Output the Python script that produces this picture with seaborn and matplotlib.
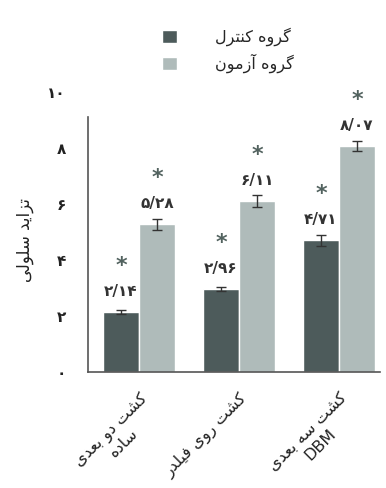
import pandas as pd
import matplotlib
matplotlib.use('Agg')
import matplotlib.pyplot as plt
from matplotlib.patches import Patch
import seaborn as sns

# data
categories = ['کشت دو بعدی\nساده', 'کشت روی فیلدر', 'کشت سه بعدی\nDBM']
groups = ['گروه کنترل', 'گروه آزمون']
control = [2.14, 2.96, 4.71]
test = [5.28, 6.11, 8.07]
control_err = [0.06, 0.08, 0.20]
test_err = [0.20, 0.20, 0.18]
yticks = [0, 2, 4, 6, 8, 10]
ylabel = 'تزاید سلولی'

dark = '#4d5b5b'
light = '#afbbba'

# no arabic_reshaper here, so a small persian shaper: (isolated, final, initial, medial)
FORMS = {
    'ا': ('\uFE8D', '\uFE8E', None, None),
    'آ': ('\uFE81', '\uFE82', None, None),
    'ب': ('\uFE8F', '\uFE90', '\uFE91', '\uFE92'),
    'ت': ('\uFE95', '\uFE96', '\uFE97', '\uFE98'),
    'د': ('\uFEA9', '\uFEAA', None, None),
    'ر': ('\uFEAD', '\uFEAE', None, None),
    'ز': ('\uFEAF', '\uFEB0', None, None),
    'س': ('\uFEB1', '\uFEB2', '\uFEB3', '\uFEB4'),
    'ش': ('\uFEB5', '\uFEB6', '\uFEB7', '\uFEB8'),
    'ع': ('\uFEC9', '\uFECA', '\uFECB', '\uFECC'),
    'ف': ('\uFED1', '\uFED2', '\uFED3', '\uFED4'),
    'ل': ('\uFEDD', '\uFEDE', '\uFEDF', '\uFEE0'),
    'م': ('\uFEE1', '\uFEE2', '\uFEE3', '\uFEE4'),
    'ن': ('\uFEE5', '\uFEE6', '\uFEE7', '\uFEE8'),
    'ه': ('\uFEE9', '\uFEEA', '\uFEEB', '\uFEEC'),
    'و': ('\uFEED', '\uFEEE', None, None),
    'ی': ('\uFBFC', '\uFBFD', '\uFBFE', '\uFBFF'),
    'ک': ('\uFB8E', '\uFB8F', '\uFB90', '\uFB91'),
    'گ': ('\uFB92', '\uFB93', '\uFB94', '\uFB95'),
}


def shape_line(line):
    if not any(c in FORMS for c in line):
        return line
    out = []
    for i, c in enumerate(line):
        if c not in FORMS:
            out.append(c)
            continue
        prev = line[i - 1] if i > 0 else ''
        nxt = line[i + 1] if i + 1 < len(line) else ''
        join_prev = prev in FORMS and FORMS[prev][2] is not None
        join_next = FORMS[c][2] is not None and nxt in FORMS
        iso, fin, ini, med = FORMS[c]
        if join_prev and join_next:
            out.append(med)
        elif join_prev:
            out.append(fin)
        elif join_next:
            out.append(ini)
        else:
            out.append(iso)
    return ''.join(out)[::-1]


def shape(text):
    return '\n'.join(shape_line(l) for l in text.split('\n'))


def to_fa(s):
    return s.translate(str.maketrans('0123456789.', '۰۱۲۳۴۵۶۷۸۹/'))


df = pd.DataFrame({
    'cat': [shape(c) for c in categories] * 2,
    'group': [shape(groups[0])] * 3 + [shape(groups[1])] * 3,
    'val': control + test,
})

sns.set_theme(style='white')
plt.rcParams['font.family'] = ['DejaVu Sans']

fig = plt.figure(figsize=(3.86, 4.88), dpi=100)
ax = fig.add_axes([88 / 386, 1 - 372 / 488, 292 / 386, 280 / 488])

sns.barplot(data=df, x='cat', y='val', hue='group', palette=[dark, light],
            width=0.72, saturation=1, legend=False, ax=ax)

# error bars + labels on top of each bar
bars = ax.patches
errs = control_err + test_err
xs = [p.get_x() + p.get_width() / 2 for p in bars]
tops = [p.get_height() for p in bars]
ax.errorbar(xs, tops, yerr=errs, fmt='none', ecolor='#333333',
            elinewidth=1, capsize=3.5, capthick=1)
for x, v in zip(xs, tops):
    ax.annotate(to_fa(f'{v:.2f}'), (x, v), xytext=(0, 15), textcoords='offset points',
                ha='center', va='center', fontsize=11, fontweight='bold', color='#333333')
    ax.annotate('*', (x, v), xytext=(0, 33), textcoords='offset points',
                ha='center', va='center', fontsize=16, fontweight='bold', color='#52625f')

ax.set_ylim(0, 10)
ax.set_xlim(-0.51, 2.41)
ax.set_yticks(yticks)
ax.set_yticklabels([to_fa(str(t)) for t in yticks], fontsize=11, fontweight='bold', color='#222222')
ax.set_xticks(range(len(categories)))
ax.set_xticklabels([shape(c) for c in categories], rotation=45, ha='right',
                   rotation_mode='anchor', multialignment='center', fontsize=11.5, color='#222222')
ax.tick_params(axis='y', length=0, pad=16)
ax.tick_params(axis='x', length=0, pad=13)
ax.set_xlabel('')
ax.set_ylabel('')

sns.despine(ax=ax)
for s in ['left', 'bottom']:
    ax.spines[s].set_color('#555555')
    ax.spines[s].set_linewidth(1.2)
ax.spines['left'].set_bounds(0, 9.1)

fig.text(25 / 386, 1 - 240 / 488, shape(ylabel), rotation=90,
         ha='center', va='center', fontsize=12, color='#222222')

handles = [Patch(facecolor=dark), Patch(facecolor=light)]
fig.legend(handles, [shape(g) for g in groups], loc='upper left',
           bbox_to_anchor=(148 / 386, 1 - 13 / 488), frameon=False,
           handlelength=0.9, handleheight=0.9, handletextpad=2.4,
           labelspacing=0.5, fontsize=11.5)

fig.savefig('out.png', dpi=100)
